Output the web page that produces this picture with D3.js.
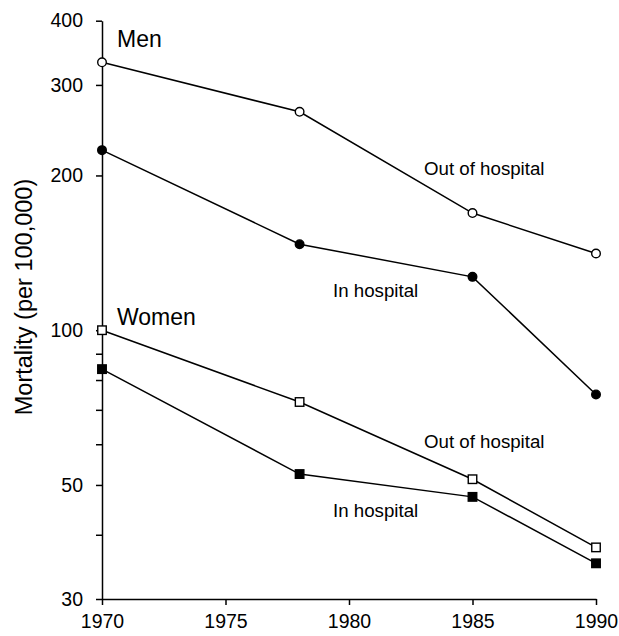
<!DOCTYPE html>
<html>
<head>
<meta charset="utf-8">
<script src="https://cdn.jsdelivr.net/npm/d3@7"></script>
<style>
  html, body { margin: 0; padding: 0; background: #fff; }
  svg { display: block; font-family: "Liberation Sans", Arial, Helvetica, sans-serif; }
</style>
</head>
<body>
<svg id="chart" width="619" height="636"></svg>
<script>
// Mortality per 100,000, by year
const years = [1970, 1978, 1985, 1990];
const menOutOfHospital = [332, 266, 169, 141];
const menInHospital = [224, 147, 127, 75];
const womenOutOfHospital = [100, 72.5, 51.3, 37.8];
const womenInHospital = [84, 52.5, 47.4, 35.2];

const xTicks = [1970, 1975, 1980, 1985, 1990];
const yTicks = [30, 40, 50, 60, 70, 80, 90, 100, 200, 300, 400];
const yTickLabels = [30, 50, 100, 200, 300, 400];

const series = [
  { name: "Men, out of hospital", values: menOutOfHospital, shape: "circle", fill: "#fff" },
  { name: "Men, in hospital", values: menInHospital, shape: "circle", fill: "#000" },
  { name: "Women, out of hospital", values: womenOutOfHospital, shape: "square", fill: "#fff" },
  { name: "Women, in hospital", values: womenInHospital, shape: "square", fill: "#000" }
];

const svg = d3.select("#chart");
const margin = { left: 102, right: 23, top: 20.7, bottom: 37 };
const W = 619, H = 636;

const x = d3.scaleLinear().domain([1970, 1990]).range([margin.left, W - margin.right]);
const y = d3.scaleLog().domain([30, 400]).range([H - margin.bottom, margin.top]);

// Axes
const xAxis = d3.axisBottom(x).tickValues(xTicks).tickFormat(d3.format("d")).tickSize(6).tickSizeOuter(0);
const yAxis = d3.axisLeft(y).tickValues(yTicks)
  .tickFormat(d => yTickLabels.includes(d) ? d : "").tickSize(6).tickSizeOuter(0);

const gx = svg.append("g").attr("transform", `translate(0,${y(30)})`).call(xAxis);
const gy = svg.append("g").attr("transform", `translate(${x(1970)},0)`).call(yAxis);

[gx, gy].forEach(g => {
  g.attr("font-size", null).attr("font-family", null);
  g.select(".domain").attr("stroke", "#000").attr("stroke-width", 1.5);
  g.selectAll(".tick line").attr("stroke", "#000").attr("stroke-width", 1.5);
  g.selectAll(".tick text").attr("fill", "#000").style("font-size", "19.5px");
});
gx.selectAll(".tick text").attr("dy", null).attr("y", 29);
gy.selectAll(".tick text").attr("x", -19);

// Y axis title
svg.append("text")
  .attr("transform", "translate(31.5,297) rotate(-90)")
  .attr("text-anchor", "middle")
  .style("font-size", "23.5px")
  .text("Mortality (per 100,000)");

// Lines and markers
const line = d3.line().x((d, i) => x(years[i])).y(d => y(d));

series.forEach(s => {
  svg.append("path")
    .datum(s.values)
    .attr("d", line)
    .attr("fill", "none")
    .attr("stroke", "#000")
    .attr("stroke-width", 1.5);

  const g = svg.append("g");
  if (s.shape === "circle") {
    g.selectAll("circle").data(s.values).join("circle")
      .attr("cx", (d, i) => x(years[i]))
      .attr("cy", d => y(d))
      .attr("r", 4.3)
      .attr("fill", s.fill)
      .attr("stroke", "#000")
      .attr("stroke-width", 1.4);
  } else {
    const side = 8.5;
    g.selectAll("rect").data(s.values).join("rect")
      .attr("x", (d, i) => x(years[i]) - side / 2)
      .attr("y", d => y(d) - side / 2)
      .attr("width", side)
      .attr("height", side)
      .attr("fill", s.fill)
      .attr("stroke", "#000")
      .attr("stroke-width", 1.4);
  }
});

// Annotations (baseline positions)
const annotations = [
  { text: "Men", x: 117, y: 46.5, size: 23 },
  { text: "Women", x: 117, y: 325, size: 23 },
  { text: "Out of hospital", x: 424, y: 175, size: 18.7 },
  { text: "In hospital", x: 333, y: 297, size: 18.7 },
  { text: "Out of hospital", x: 424, y: 448, size: 18.7 },
  { text: "In hospital", x: 333, y: 517, size: 18.7 }
];
svg.append("g").selectAll("text").data(annotations).join("text")
  .attr("x", d => d.x)
  .attr("y", d => d.y)
  .style("font-size", d => d.size + "px")
  .text(d => d.text);
</script>
</body>
</html>
